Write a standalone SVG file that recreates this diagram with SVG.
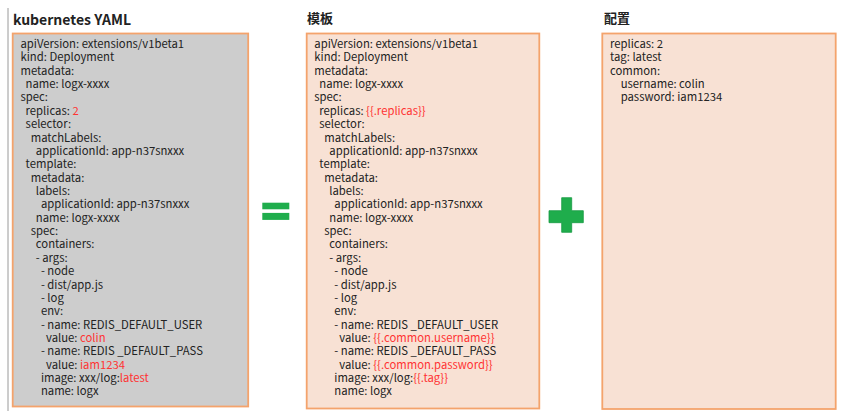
<svg xmlns="http://www.w3.org/2000/svg" width="847" height="419" viewBox="0 0 847 419">
<style>
.box{stroke:#f4a36c;stroke-width:1.8}
.gray{fill:#cdcdcd}
.peach{fill:#f8e1d4}
.code{font-family:"Noto Sans CJK SC","Source Han Sans SC","Noto Sans",sans-serif;font-size:11.3px;fill:#222}
.title{font-family:"Noto Sans CJK SC","Noto Sans",sans-serif;font-weight:bold;fill:#222}
.r{fill:#ff3333}
.green{fill:#1fad4c}
</style>
<rect width="847" height="419" fill="#ffffff"/>
<line x1="8" y1="8" x2="8" y2="411" stroke="#9a9a9a" stroke-width="1"/>
<g id="kubernetes-yaml">
<text class="title" x="13" y="24.5" font-size="14">kubernetes YAML</text>
<rect class="box gray" x="12.7" y="33.5" width="235.5" height="373"/>
<text class="code">
<tspan x="20.5" y="48">apiVersion: extensions/v1beta1</tspan>
<tspan x="20.5" y="61.4">kind: Deployment</tspan>
<tspan x="20.5" y="74.7">metadata:</tspan>
<tspan x="25.6" y="88.1">name: logx-xxxx</tspan>
<tspan x="20.5" y="101.4">spec:</tspan>
<tspan x="25.6" y="114.8">replicas: <tspan class="r">2</tspan></tspan>
<tspan x="25.6" y="128.2">selector:</tspan>
<tspan x="30.7" y="141.5">matchLabels:</tspan>
<tspan x="35.8" y="154.9">applicationId: app-n37snxxx</tspan>
<tspan x="25.6" y="168.2">template:</tspan>
<tspan x="30.7" y="181.6">metadata:</tspan>
<tspan x="35.8" y="195">labels:</tspan>
<tspan x="40.9" y="208.3">applicationId: app-n37snxxx</tspan>
<tspan x="35.8" y="221.7">name: logx-xxxx</tspan>
<tspan x="30.7" y="235">spec:</tspan>
<tspan x="35.8" y="248.4">containers:</tspan>
<tspan x="35.8" y="261.8">- args:</tspan>
<tspan x="40.9" y="275.1">- node</tspan>
<tspan x="40.9" y="288.5">- dist/app.js</tspan>
<tspan x="40.9" y="301.8">- log</tspan>
<tspan x="40.9" y="315.2">env:</tspan>
<tspan x="40.9" y="328.6">- name: REDIS_DEFAULT_USER</tspan>
<tspan x="46" y="341.9">value: <tspan class="r">colin</tspan></tspan>
<tspan x="40.9" y="355.3">- name: REDIS _DEFAULT_PASS</tspan>
<tspan x="46" y="368.6">value: <tspan class="r">iam1234</tspan></tspan>
<tspan x="40.9" y="382">image: xxx/log:<tspan class="r">latest</tspan></tspan>
<tspan x="40.9" y="395.4">name: logx</tspan>
</text>
</g>
<g id="equals">
<rect class="green" x="262.3" y="202.7" width="27" height="6.6"/>
<rect class="green" x="262.3" y="212.9" width="27" height="7"/>
</g>
<g id="template">
<text class="title" x="307" y="22.5" font-size="13">模板</text>
<rect class="box peach" x="306.7" y="33.5" width="232.6" height="375"/>
<text class="code">
<tspan x="314.3" y="48">apiVersion: extensions/v1beta1</tspan>
<tspan x="314.3" y="61.4">kind: Deployment</tspan>
<tspan x="314.3" y="74.7">metadata:</tspan>
<tspan x="319.3" y="88.1">name: logx-xxxx</tspan>
<tspan x="314.3" y="101.4">spec:</tspan>
<tspan x="319.3" y="114.8">replicas: <tspan class="r">{{.replicas}}</tspan></tspan>
<tspan x="319.3" y="128.2">selector:</tspan>
<tspan x="324.3" y="141.5">matchLabels:</tspan>
<tspan x="329.3" y="154.9">applicationId: app-n37snxxx</tspan>
<tspan x="319.3" y="168.2">template:</tspan>
<tspan x="324.3" y="181.6">metadata:</tspan>
<tspan x="329.3" y="195">labels:</tspan>
<tspan x="334.3" y="208.3">applicationId: app-n37snxxx</tspan>
<tspan x="329.3" y="221.7">name: logx-xxxx</tspan>
<tspan x="324.3" y="235">spec:</tspan>
<tspan x="329.3" y="248.4">containers:</tspan>
<tspan x="329.3" y="261.8">- args:</tspan>
<tspan x="334.3" y="275.1">- node</tspan>
<tspan x="334.3" y="288.5">- dist/app.js</tspan>
<tspan x="334.3" y="301.8">- log</tspan>
<tspan x="334.3" y="315.2">env:</tspan>
<tspan x="334.3" y="328.6">- name: REDIS _DEFAULT_USER</tspan>
<tspan x="339.3" y="341.9">value: <tspan class="r">{{.common.username}}</tspan></tspan>
<tspan x="334.3" y="355.3">- name: REDIS _DEFAULT_PASS</tspan>
<tspan x="339.3" y="368.6">value: <tspan class="r">{{.common.password}}</tspan></tspan>
<tspan x="334.3" y="382">image: xxx/log:<tspan class="r">{{.tag}}</tspan></tspan>
<tspan x="334.3" y="395.4">name: logx</tspan>
</text>
</g>
<g id="plus">
<path class="green" d="M561.7 197.7H571.7V210.7H583.3V222.7H571.7V232.3H561.7V222.7H549V210.7H561.7Z" stroke="#189a42" stroke-width="0.8"/>
</g>
<g id="config">
<text class="title" x="604" y="22.5" font-size="13">配置</text>
<rect class="box peach" x="602.3" y="33.5" width="233.4" height="375.5"/>
<text class="code">
<tspan x="610" y="48">replicas: 2</tspan>
<tspan x="610" y="61.4">tag: latest</tspan>
<tspan x="610" y="74.7">common:</tspan>
<tspan x="620.7" y="88.1">username: colin</tspan>
<tspan x="620.7" y="101.4">password: iam1234</tspan>
</text>
</g>
</svg>
